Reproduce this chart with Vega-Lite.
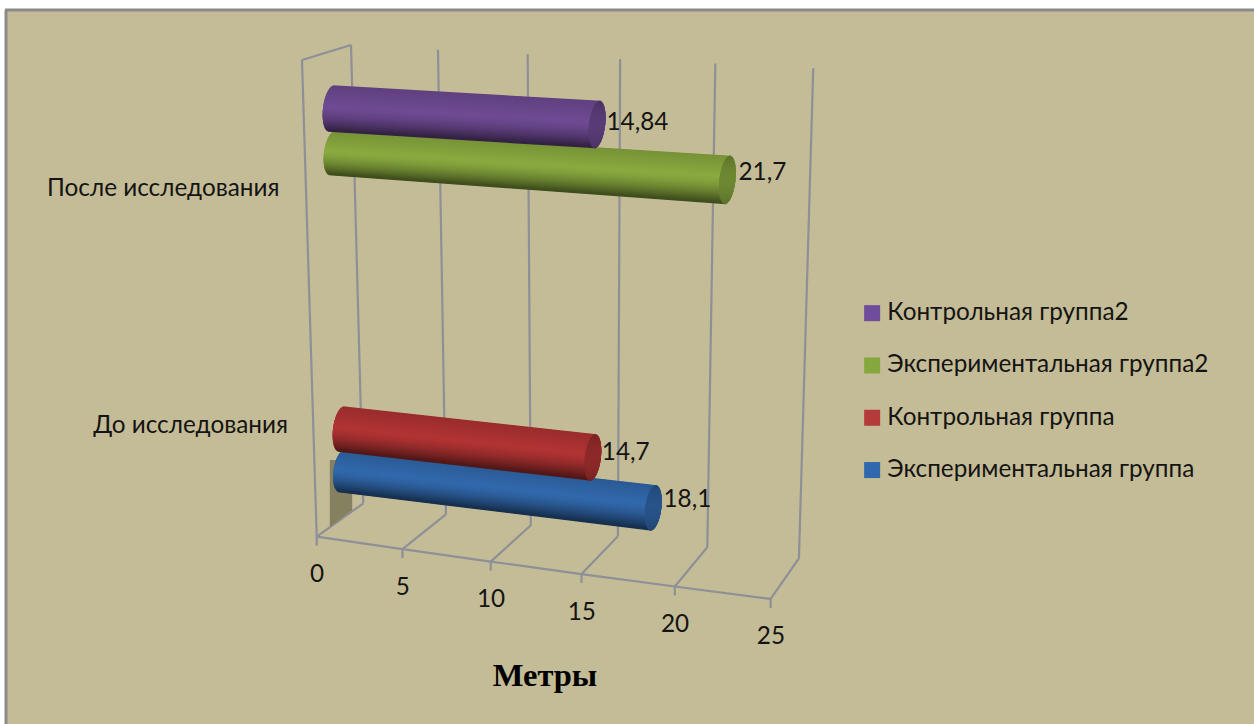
{
  "$schema": "https://vega.github.io/schema/vega-lite/v6.json",
  "width": 1248,
  "height": 714,
  "padding": {"left": 6, "top": 10, "right": 0, "bottom": 0},
  "autosize": "none",
  "background": "#ffffff",
  "view": {"fill": "#C4BC96", "stroke": null},
  "datasets": {
    "bars": [
      {"period": "До исследования", "group": "Экспериментальная группа", "value": 18.1},
      {"period": "До исследования", "group": "Контрольная группа", "value": 14.7},
      {"period": "После исследования", "group": "Экспериментальная группа2", "value": 21.7},
      {"period": "После исследования", "group": "Контрольная группа2", "value": 14.84}
    ],
    "ticks": [{"tick": 0}, {"tick": 5}, {"tick": 10}, {"tick": 15}, {"tick": 20}, {"tick": 25}],
    "periods": [{"period": "После исследования"}, {"period": "До исследования"}],
    "edges": [{"edge": "left"}, {"edge": "top"}]
  },
  "encoding": {
    "x": {
      "field": "px", "type": "quantitative",
      "scale": {"domain": [6, 1254], "nice": false, "zero": false},
      "axis": {
        "domain": false, "ticks": false, "labels": false, "grid": false,
        "title": "Метры", "titleFont": "Liberation Serif", "titleFontWeight": "bold",
        "titleFontSize": 32.5, "titleColor": "#000000", "titleX": 538.5, "titleY": -39,
        "titleAnchor": "middle", "titleAlign": "center", "titleBaseline": "alphabetic"
      }
    },
    "y": {
      "field": "py", "type": "quantitative",
      "scale": {"domain": [724, 10], "nice": false, "zero": false},
      "axis": null
    }
  },
  "layer": [
    {
      "data": {"name": "edges"},
      "transform": [
        {"calculate": "datum.edge === 'left' ? [6, 724, 6, 10] : [5, 10, 1254, 10]", "as": "s"},
        {"calculate": "datum.s[0]", "as": "px"}, {"calculate": "datum.s[1]", "as": "py"},
        {"calculate": "datum.s[2]", "as": "px2"}, {"calculate": "datum.s[3]", "as": "py2"}
      ],
      "mark": {"type": "rule", "stroke": "#8A8A8A", "strokeWidth": 3},
      "encoding": {"x2": {"field": "px2"}, "y2": {"field": "py2"}}
    },
    {
      "data": {"name": "ticks"},
      "transform": [
        {"calculate": "316.7 + 16.9 * datum.tick + 0.0503 * datum.tick * datum.tick", "as": "fx"},
        {"calculate": "536.7 + 2.49 * datum.tick", "as": "fy"},
        {"calculate": "316.7 + 16.9 * (datum.tick + 5) + 0.0503 * (datum.tick + 5) * (datum.tick + 5)", "as": "nx"},
        {"calculate": "536.7 + 2.49 * (datum.tick + 5)", "as": "ny"},
        {"calculate": "363.3 + 16.3 * datum.tick + 0.045 * datum.tick * datum.tick", "as": "bx"},
        {"calculate": "503.3 + 2.2 * datum.tick", "as": "by"},
        {"calculate": "351 + 17.12 * datum.tick + 0.0548 * datum.tick * datum.tick", "as": "tx"},
        {"calculate": "45 + 0.93 * datum.tick", "as": "ty"},
        {"calculate": "[[datum.fx, datum.fy, datum.fx, datum.fy + 9], [datum.fx, datum.fy, datum.bx, datum.by], [datum.bx, datum.by, datum.tx, datum.ty], datum.tick < 25 ? [datum.fx, datum.fy, datum.nx, datum.ny] : null, datum.tick === 0 ? [datum.fx, datum.fy, 302, 60] : null, datum.tick === 0 ? [302, 60, datum.tx, datum.ty] : null]", "as": "segs"},
        {"flatten": ["segs"]},
        {"filter": "isValid(datum.segs)"},
        {"calculate": "datum.segs[0]", "as": "px"}, {"calculate": "datum.segs[1]", "as": "py"},
        {"calculate": "datum.segs[2]", "as": "px2"}, {"calculate": "datum.segs[3]", "as": "py2"}
      ],
      "mark": {"type": "rule", "stroke": "#8E9098", "strokeWidth": 2.2},
      "encoding": {"x2": {"field": "px2"}, "y2": {"field": "py2"}}
    },
    {
      "data": {"name": "ticks"},
      "transform": [
        {"calculate": "317 + 16.9 * datum.tick + 0.0503 * datum.tick * datum.tick", "as": "px"},
        {"calculate": "575.2 + 2.49 * datum.tick", "as": "py"}
      ],
      "mark": {"type": "text", "font": "Lato", "fontSize": 24.3, "fill": "#141414", "align": "center", "baseline": "middle"},
      "encoding": {"text": {"field": "tick", "type": "quantitative"}}
    },
    {
      "data": {"name": "bars"},
      "transform": [
        {"filter": "datum.group === 'Экспериментальная группа'"},
        {"calculate": "[331,333,335,337,339,341,343,345,347,349,351]", "as": "px"},
        {"flatten": ["px"]},
        {"calculate": "460", "as": "py"},
        {"calculate": "526 - 0.75 * (datum.px - 331)", "as": "py2"}
      ],
      "mark": {"type": "rule", "stroke": "#85805F", "strokeWidth": 2.4},
      "encoding": {"x2": {"field": "px"}, "y2": {"field": "py2"}}
    },
    {
      "data": {"name": "bars"},
      "transform": [
        {"calculate": "{'Контрольная группа2': [331.5, 108.5, 17.9, 1.08, 22.5, 23, 112, 75, 148], 'Экспериментальная группа2': [332.5, 153, 18.2, 1.24, 21.5, 23.5, 138, 170, 64], 'Контрольная группа': [341.5, 429, 17.1, 1.94, 22, 22.5, 178, 52, 52], 'Экспериментальная группа': [342, 471, 17.2, 2.04, 20.5, 22, 50, 105, 172]}[datum.group]", "as": "b"},
        {"calculate": "datum.b[0] + datum.b[2] * datum.value", "as": "x1"},
        {"calculate": "datum.b[1] + datum.b[3] * datum.value", "as": "y1"},
        {"calculate": "[0, 1]", "as": "part"},
        {"flatten": ["part"]},
        {"calculate": "sequence(-0.99, 1, 0.03)", "as": "f"},
        {"flatten": ["f"]},
        {"calculate": "sqrt(max(0, 1 - datum.f * datum.f))", "as": "w"},
        {"calculate": "-datum.f * 2.5", "as": "skew"},
        {"calculate": "datum.part === 0 ? datum.b[0] - 8.5 * datum.w + datum.skew : datum.x1 - 8 * datum.w + datum.skew", "as": "px"},
        {"calculate": "datum.x1 + 8 * datum.w + datum.skew", "as": "px2"},
        {"calculate": "datum.part === 0 ? datum.b[1] + datum.f * datum.b[4] : datum.y1 + datum.f * datum.b[5]", "as": "py"},
        {"calculate": "datum.y1 + datum.f * datum.b[5]", "as": "py2"},
        {"calculate": "datum.part === 1 ? 0.8 - 0.12 * datum.f * datum.f : (datum.f < -0.1 ? 0.86 + 0.14 * (datum.f + 1) / 0.9 : 1 - 0.55 * pow((datum.f + 0.1) / 1.1, 1.6))", "as": "s"},
        {"calculate": "'rgb(' + round(datum.b[6] * datum.s) + ',' + round(datum.b[7] * datum.s) + ',' + round(datum.b[8] * datum.s) + ')'", "as": "shade"}
      ],
      "mark": {"type": "rule", "strokeWidth": 2, "strokeCap": "butt"},
      "encoding": {
        "x2": {"field": "px2"},
        "y2": {"field": "py2"},
        "stroke": {"field": "shade", "type": "nominal", "scale": null, "legend": null}
      }
    },
    {
      "data": {"name": "bars"},
      "transform": [
        {"calculate": "{'Контрольная группа2': [597.5, 123], 'Экспериментальная группа2': [729.5, 173], 'Контрольная группа': [592.8, 453], 'Экспериментальная группа': [654.5, 500]}[datum.group]", "as": "a"},
        {"calculate": "datum.a[0] + 9", "as": "px"},
        {"calculate": "datum.a[1]", "as": "py"},
        {"calculate": "replace('' + datum.value, '.', ',')", "as": "label"}
      ],
      "mark": {"type": "text", "font": "Lato", "fontSize": 24.3, "fill": "#141414", "align": "left", "baseline": "middle"},
      "encoding": {"text": {"field": "label", "type": "nominal"}}
    },
    {
      "data": {"name": "periods"},
      "transform": [
        {"calculate": "datum.period === 'До исследования' ? 288 : 279.5", "as": "px"},
        {"calculate": "datum.period === 'До исследования' ? 426 : 189", "as": "py"}
      ],
      "mark": {"type": "text", "font": "Lato", "fontSize": 24.3, "fill": "#141414", "align": "right", "baseline": "middle"},
      "encoding": {"text": {"field": "period", "type": "nominal"}}
    },
    {
      "data": {"name": "bars"},
      "transform": [
        {"calculate": "400", "as": "px"},
        {"calculate": "300", "as": "py"}
      ],
      "mark": {"type": "square", "size": 0, "opacity": 1},
      "encoding": {
        "fill": {
          "field": "group", "type": "nominal",
          "scale": {
            "domain": ["Контрольная группа2", "Экспериментальная группа2", "Контрольная группа", "Экспериментальная группа"],
            "range": ["#6F4C9C", "#86A63E", "#B53A3A", "#2F68AC"]
          },
          "legend": {
            "orient": "none", "legendX": 854, "legendY": 291, "title": null,
            "symbolType": "square", "symbolSize": 256, "symbolStrokeWidth": 0,
            "labelFont": "Lato", "labelFontSize": 24.3, "labelColor": "#141414",
            "labelOffset": 3, "rowPadding": 27.3, "labelLimit": 400
          }
        }
      }
    }
  ]
}
